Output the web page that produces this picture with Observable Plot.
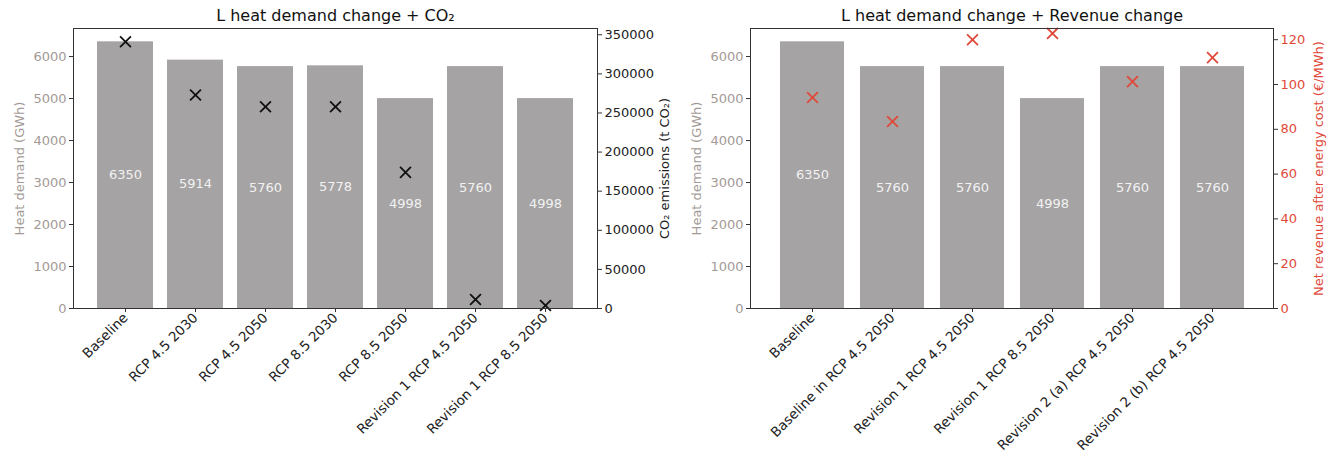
<!DOCTYPE html>
<html>
<head>
<meta charset="utf-8">
<script src="https://cdn.jsdelivr.net/npm/d3@7"></script>
<script src="https://cdn.jsdelivr.net/npm/@observablehq/plot@0.6"></script>
<style>
  body { margin: 0; background: #fff; }
  #wrap { display: flex; flex-direction: row; width: 1329px; height: 458px; }
  svg { font-family: "DejaVu Sans", sans-serif; }
</style>
</head>
<body>
<div id="wrap"></div>
<script>
// ---- Data: left chart ----
const leftCategories = ["Baseline", "RCP 4.5 2030", "RCP 4.5 2050", "RCP 8.5 2030", "RCP 8.5 2050", "Revision 1 RCP 4.5 2050", "Revision 1 RCP 8.5 2050"];
const leftHeat = [6350, 5914, 5760, 5778, 4998, 5760, 4998];
const leftCO2 = [341000, 273000, 258000, 258000, 174000, 11500, 3800];
const heatTicks = [0, 1000, 2000, 3000, 4000, 5000, 6000];
const co2Ticks = [0, 50000, 100000, 150000, 200000, 250000, 300000, 350000];

// ---- Data: right chart ----
const rightCategories = ["Baseline", "Baseline in RCP 4.5 2050", "Revision 1 RCP 4.5 2050", "Revision 1 RCP 8.5 2050", "Revision 2 (a) RCP 4.5 2050", "Revision 2 (b) RCP 4.5 2050"];
const rightHeat = [6350, 5760, 5760, 4998, 5760, 5760];
const rightRevenue = [94.2, 83.5, 120, 122.8, 101.3, 112];
const revenueTicks = [0, 20, 40, 60, 80, 100, 120];

const heatMax = 6667.5;
const co2Max = 358000;
const revMax = 125;

const barColor = "#a5a3a3";
const greyText = "#a39a96";
const red = "#e0493a";

function makeChart({categories, heat, second, secondMax, secondTicks, secondColor, markColor, title, secondLabel, width, marginLeft, marginRight, secondLabelOffset}) {
  const k = heatMax / secondMax;
  const rows = categories.map((c, i) => ({cat: c, heat: heat[i], sec: second[i]}));
  return Plot.plot({
    width, height: 458,
    marginTop: 28, marginBottom: 150, marginLeft, marginRight,
    style: {fontFamily: "DejaVu Sans, sans-serif", fontSize: "13px", background: "white"},
    x: {type: "band", domain: categories, paddingInner: 0.2, paddingOuter: 0.34, axis: null},
    y: {domain: [0, heatMax], axis: null},
    marks: [
      Plot.barY(rows, {x: "cat", y: "heat", fill: barColor}),
      Plot.text(rows, {x: "cat", y: d => d.heat / 2, text: d => String(d.heat), fill: "#f2f2f2", fontSize: 13}),
      Plot.dot(rows, {x: "cat", y: d => d.sec * k, symbol: "times", r: 5, stroke: markColor, strokeWidth: 1.8}),
      Plot.frame({stroke: "#333", strokeWidth: 1}),
      Plot.axisY(heatTicks, {anchor: "left", tickSize: 4, tickPadding: 3, color: greyText, stroke: "#333", fontSize: 13,
        tickFormat: v => String(v),
        label: "Heat demand (GWh)", labelAnchor: "center", labelArrow: "none", labelOffset: 59}),
      Plot.axisY(secondTicks.map(v => v * k), {anchor: "right", tickSize: 4, tickPadding: 3, color: secondColor, stroke: "#333", fontSize: 13,
        tickFormat: v => String(Math.round(v / k)),
        label: secondLabel, labelAnchor: "center", labelArrow: "none", labelOffset: secondLabelOffset}),
      Plot.axisX({anchor: "bottom", tickSize: 4, tickPadding: 3, tickRotate: -45, fill: "#222", stroke: "#333", fontSize: 13.5, label: null}),
      Plot.text([title], {frameAnchor: "top", lineAnchor: "middle", dy: -13, fontSize: 16, fill: "#111"})
    ]
  });
}

const left = makeChart({
  categories: leftCategories, heat: leftHeat, second: leftCO2, secondMax: co2Max, secondTicks: co2Ticks,
  secondColor: "#222", markColor: "#111", title: "L heat demand change + CO\u2082",
  secondLabel: "CO\u2082 emissions (t CO\u2082)", width: 672, marginLeft: 73, marginRight: 75, secondLabelOffset: 71
});
const right = makeChart({
  categories: rightCategories, heat: rightHeat, second: rightRevenue, secondMax: revMax, secondTicks: revenueTicks,
  secondColor: red, markColor: red, title: "L heat demand change + Revenue change",
  secondLabel: "Net revenue after energy cost (\u20ac/MWh)", width: 657, marginLeft: 78, marginRight: 56, secondLabelOffset: 49
});
document.getElementById("wrap").append(left, right);
</script>
</body>
</html>
